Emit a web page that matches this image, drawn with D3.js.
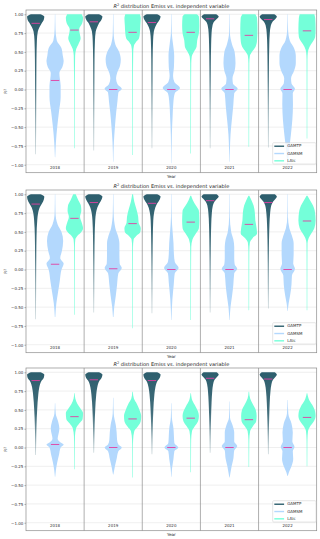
<!DOCTYPE html>
<html>
<head>
<meta charset="utf-8">
<script src="https://cdn.jsdelivr.net/npm/d3@7"></script>
<style>
  body { margin: 0; background: #fff; }
  svg { display: block; font-family: "DejaVu Sans", sans-serif; }
</style>
</head>
<body>
<svg id="chart" width="320" height="539"></svg>
<script>
const years = ["2018", "2019", "2020", "2021", "2022"];
const variables = ["GAMTP", "GAMSM", "LAIc"];
const titleRest = " distribution Emiss vs. independent variable";
const yTicks = [-1, -0.75, -0.5, -0.25, 0, 0.25, 0.5, 0.75, 1];

// violin outlines, one list per panel, one entry per year: [R2 value, relative half width]
const gamtpProfiles = [
  [
    [[1,0.55],[0.97,1],[0.93,0.95],[0.88,0.7],[0.83,0.45],[0.77,0.25],[0.65,0.14],[0.4,0.09],[0,0.07],[-0.5,0.05],[-0.86,0.03]],
    [[1,0.6],[0.97,1],[0.93,0.9],[0.88,0.6],[0.83,0.4],[0.77,0.22],[0.65,0.13],[0.4,0.08],[0,0.06],[-0.5,0.04],[-0.81,0.03]],
    [[1,0.6],[0.97,1],[0.93,0.9],[0.88,0.6],[0.83,0.38],[0.77,0.22],[0.65,0.13],[0.4,0.08],[0,0.06],[-0.5,0.04],[-0.78,0.03]],
    [[1,0.7],[0.97,1],[0.94,0.8],[0.9,0.45],[0.85,0.28],[0.75,0.17],[0.6,0.12],[0.3,0.08],[0,0.06],[-0.5,0.04],[-0.78,0.03]],
    [[1,0.7],[0.97,1],[0.94,0.85],[0.9,0.5],[0.85,0.3],[0.75,0.18],[0.6,0.12],[0.3,0.08],[0,0.06],[-0.5,0.04],[-0.77,0.03]]
  ],
  [
    [[1,0.55],[0.97,1],[0.93,0.95],[0.88,0.75],[0.82,0.45],[0.75,0.28],[0.65,0.18],[0.45,0.1],[0.2,0.07],[-0.2,0.05],[-0.66,0.03]],
    [[1,0.6],[0.97,1],[0.93,0.9],[0.88,0.65],[0.82,0.4],[0.75,0.25],[0.65,0.16],[0.45,0.1],[0.2,0.07],[-0.2,0.05],[-0.57,0.03]],
    [[1,0.6],[0.97,1],[0.93,0.9],[0.88,0.62],[0.82,0.38],[0.75,0.24],[0.65,0.15],[0.45,0.1],[0.2,0.07],[-0.2,0.05],[-0.58,0.03]],
    [[1,0.75],[0.97,1],[0.94,0.8],[0.9,0.5],[0.85,0.32],[0.75,0.2],[0.6,0.13],[0.4,0.09],[0.1,0.06],[-0.2,0.05],[-0.57,0.03]],
    [[1,0.75],[0.97,1],[0.94,0.85],[0.9,0.55],[0.85,0.35],[0.75,0.22],[0.6,0.14],[0.4,0.09],[0.1,0.06],[-0.2,0.05],[-0.52,0.03]]
  ],
  [
    [[1,0.55],[0.97,1],[0.93,0.95],[0.88,0.65],[0.8,0.42],[0.7,0.3],[0.5,0.17],[0.3,0.1],[0.1,0.06],[-0.1,0.03]],
    [[1,0.6],[0.97,1],[0.93,0.92],[0.88,0.62],[0.8,0.4],[0.7,0.28],[0.5,0.16],[0.3,0.1],[0.1,0.06],[-0.07,0.03]],
    [[1,0.6],[0.97,1],[0.93,0.92],[0.88,0.62],[0.8,0.4],[0.7,0.28],[0.5,0.16],[0.3,0.1],[0.1,0.06],[-0.09,0.03]],
    [[1,0.75],[0.97,1],[0.94,0.82],[0.9,0.52],[0.84,0.35],[0.75,0.25],[0.6,0.17],[0.4,0.11],[0.15,0.06],[-0.07,0.03]],
    [[1,0.75],[0.97,1],[0.94,0.85],[0.9,0.55],[0.84,0.37],[0.75,0.26],[0.6,0.17],[0.4,0.11],[0.15,0.06],[-0.09,0.03]]
  ]
];

const gamsmProfiles = [
  [
    [[1,0.02],[0.8,0.05],[0.65,0.2],[0.55,0.75],[0.45,0.9],[0.38,1],[0.3,0.85],[0.22,0.5],[0.15,0.55],[0.05,0.65],[-0.1,0.65],[-0.3,0.45],[-0.5,0.25],[-0.7,0.1],[-0.9,0.02]],
    [[1,0.02],[0.75,0.05],[0.6,0.25],[0.5,0.7],[0.4,0.88],[0.32,0.8],[0.22,0.45],[0.15,0.33],[0.07,0.5],[0.01,1],[-0.04,0.6],[-0.15,0.5],[-0.3,0.35],[-0.5,0.2],[-0.7,0.08],[-0.96,0.02]],
    [[1,0.02],[0.75,0.05],[0.6,0.2],[0.45,0.33],[0.3,0.3],[0.18,0.2],[0.1,0.35],[0.02,1],[-0.05,0.4],[-0.15,0.25],[-0.35,0.15],[-0.6,0.06],[-0.98,0.02]],
    [[1,0.02],[0.75,0.05],[0.6,0.3],[0.5,0.6],[0.35,0.7],[0.25,0.6],[0.15,0.35],[0.08,0.4],[0.01,0.95],[-0.05,0.55],[-0.2,0.45],[-0.4,0.28],[-0.6,0.12],[-0.8,0.05],[-0.96,0.02]],
    [[1,0.02],[0.8,0.05],[0.65,0.25],[0.55,0.75],[0.45,0.95],[0.35,0.95],[0.25,0.75],[0.15,0.4],[0.08,0.45],[0.01,0.85],[-0.05,0.6],[-0.2,0.62],[-0.4,0.55],[-0.6,0.38],[-0.8,0.18],[-1,0.03]]
  ],
  [
    [[1,0.02],[0.75,0.05],[0.6,0.3],[0.5,0.75],[0.38,0.94],[0.25,0.8],[0.15,0.6],[0.08,1],[0,0.75],[-0.15,0.55],[-0.3,0.35],[-0.45,0.15],[-0.63,0.03]],
    [[1,0.02],[0.75,0.05],[0.55,0.25],[0.45,0.55],[0.35,0.72],[0.2,0.72],[0.08,0.75],[0.02,1],[-0.05,0.6],[-0.2,0.45],[-0.35,0.3],[-0.5,0.12],[-0.63,0.03]],
    [[1,0.02],[0.7,0.04],[0.5,0.15],[0.35,0.25],[0.2,0.3],[0.1,0.4],[0.02,0.85],[-0.05,0.4],[-0.2,0.28],[-0.4,0.12],[-0.67,0.02]],
    [[1,0.02],[0.7,0.04],[0.5,0.2],[0.4,0.45],[0.3,0.55],[0.15,0.55],[0.07,0.6],[0.01,0.9],[-0.05,0.55],[-0.2,0.45],[-0.35,0.3],[-0.5,0.12],[-0.67,0.02]],
    [[1,0.02],[0.7,0.04],[0.55,0.2],[0.45,0.5],[0.35,0.7],[0.2,0.7],[0.08,0.65],[0.01,0.85],[-0.08,0.5],[-0.2,0.45],[-0.35,0.28],[-0.45,0.12],[-0.55,0.02]]
  ],
  [
    [[0.59,0.02],[0.45,0.08],[0.35,0.35],[0.25,0.5],[0.18,0.4],[0.12,0.3],[0.07,0.6],[0.04,1],[0,0.65],[-0.1,0.45],[-0.2,0.25],[-0.3,0.1],[-0.39,0.02]],
    [[0.66,0.02],[0.45,0.06],[0.3,0.3],[0.2,0.4],[0.1,0.45],[0.04,0.6],[0,1],[-0.05,0.6],[-0.15,0.4],[-0.25,0.2],[-0.36,0.02]],
    [[0.59,0.02],[0.4,0.06],[0.25,0.25],[0.15,0.3],[0.06,0.35],[0,0.8],[-0.05,0.35],[-0.15,0.25],[-0.28,0.08],[-0.39,0.02]],
    [[0.61,0.02],[0.4,0.06],[0.3,0.35],[0.2,0.55],[0.08,0.55],[0.02,0.9],[-0.04,0.55],[-0.15,0.45],[-0.25,0.25],[-0.4,0.02]],
    [[0.63,0.02],[0.45,0.08],[0.32,0.45],[0.2,0.6],[0.08,0.55],[0.01,0.8],[-0.05,0.6],[-0.15,0.65],[-0.25,0.45],[-0.33,0.15],[-0.38,0.02]]
  ]
];

const laicProfiles = [
  [
    [[1,0.85],[0.95,1],[0.88,0.9],[0.8,0.55],[0.75,0.6],[0.68,0.72],[0.6,0.45],[0.54,0.2],[0.45,0.08],[0,0.04],[-0.78,0.03]],
    [[1,0.85],[0.95,0.95],[0.85,0.9],[0.75,0.85],[0.68,0.75],[0.63,0.4],[0.58,0.15],[0.5,0.07],[0,0.04],[-0.87,0.03]],
    [[1,0.7],[0.97,0.95],[0.85,1],[0.75,0.95],[0.65,0.75],[0.57,0.68],[0.5,0.35],[0.44,0.12],[0.35,0.06],[0,0.04],[-0.85,0.03]],
    [[1,0.75],[0.95,0.95],[0.8,1],[0.65,0.95],[0.57,0.78],[0.5,0.35],[0.45,0.12],[0.35,0.05],[0,0.04],[-0.76,0.03]],
    [[1,0.85],[0.95,0.95],[0.8,1],[0.7,0.95],[0.63,0.65],[0.57,0.3],[0.5,0.1],[0.4,0.05],[0,0.04],[-0.65,0.03]]
  ],
  [
    [[1,0.15],[0.92,0.45],[0.85,0.75],[0.78,0.8],[0.7,0.65],[0.62,0.85],[0.55,1],[0.5,0.8],[0.45,0.35],[0.4,0.1],[0.3,0.05],[0,0.04],[-0.6,0.03]],
    [[1,0.05],[0.9,0.2],[0.8,0.45],[0.7,0.65],[0.62,0.7],[0.55,0.95],[0.5,0.9],[0.45,0.45],[0.4,0.12],[0.3,0.05],[0,0.04],[-0.78,0.03]],
    [[0.98,0.05],[0.92,0.25],[0.85,0.6],[0.78,0.95],[0.65,1],[0.55,0.95],[0.48,0.6],[0.4,0.2],[0.3,0.06],[0,0.04],[-0.67,0.03]],
    [[0.98,0.05],[0.92,0.3],[0.85,0.55],[0.75,0.7],[0.65,0.75],[0.55,0.9],[0.48,0.95],[0.42,0.45],[0.36,0.12],[0.25,0.05],[0,0.04],[-0.54,0.03]],
    [[0.98,0.05],[0.92,0.35],[0.85,0.7],[0.78,0.9],[0.65,1],[0.55,0.85],[0.48,0.5],[0.42,0.2],[0.35,0.06],[0,0.04],[-0.54,0.03]]
  ],
  [
    [[0.72,0.03],[0.65,0.1],[0.58,0.35],[0.52,0.7],[0.46,1],[0.38,0.95],[0.32,0.55],[0.26,0.2],[0.15,0.06],[0,0.04],[-0.29,0.03]],
    [[0.74,0.03],[0.65,0.15],[0.58,0.5],[0.5,0.8],[0.42,1],[0.35,0.95],[0.28,0.6],[0.22,0.2],[0.1,0.06],[0,0.04],[-0.4,0.03]],
    [[0.72,0.03],[0.62,0.2],[0.55,0.55],[0.48,0.85],[0.42,0.95],[0.35,0.85],[0.28,0.45],[0.22,0.15],[0.1,0.05],[0,0.04],[-0.33,0.03]],
    [[0.74,0.03],[0.65,0.15],[0.58,0.45],[0.5,0.8],[0.42,0.9],[0.35,0.85],[0.28,0.45],[0.22,0.15],[0.1,0.05],[0,0.04],[-0.26,0.03]],
    [[0.72,0.03],[0.62,0.3],[0.55,0.7],[0.48,0.95],[0.42,1],[0.35,0.8],[0.28,0.35],[0.22,0.12],[0.1,0.05],[0,0.04],[-0.25,0.03]]
  ]
];

const gamtpMedians = [[0.88, 0.90, 0.89, 0.94, 0.93], [0.87, 0.89, 0.88, 0.915, 0.89], [0.89, 0.90, 0.89, 0.92, 0.91]];
const gamsmMedians = [[0.12, 0.0, 0.0, 0.0, 0.0], [0.07, 0.01, 0.0, 0.0, 0.0], [0.04, 0.0, 0.0, 0.0, 0.0]];
const laicMedians = [[0.79, 0.76, 0.76, 0.72, 0.78], [0.68, 0.61, 0.63, 0.60, 0.645], [0.41, 0.38, 0.39, 0.37, 0.40]];

const profiles = { GAMTP: gamtpProfiles, GAMSM: gamsmProfiles, LAIc: laicProfiles };
const medians = { GAMTP: gamtpMedians, GAMSM: gamsmMedians, LAIc: laicMedians };
const colors = { GAMTP: "#2d5e6d", GAMSM: "#b3d8fd", LAIc: "#74ffd9" };
const medianColor = "#e23fa2";

const svg = d3.select("#chart");
const left = 26, right = 316.7, panelH = 162.7;
const panelTops = [10, 190, 368];

const defs = svg.append("defs");
const grad = defs.append("linearGradient")
  .attr("id", "gamtpFade")
  .attr("x1", 0).attr("y1", 0).attr("x2", 0).attr("y2", 1);
grad.append("stop").attr("offset", "0").attr("stop-color", colors.GAMTP).attr("stop-opacity", 1);
grad.append("stop").attr("offset", "0.5").attr("stop-color", colors.GAMTP).attr("stop-opacity", 0.9);
grad.append("stop").attr("offset", "1").attr("stop-color", colors.GAMTP).attr("stop-opacity", 0.35);

const x = d3.scaleBand().domain(years).range([left, right]);
const xInner = d3.scaleBand().domain(variables).range([0, x.bandwidth()]);
const w = d3.scaleLinear().domain([0, 1]).range([0, 8.6]);

panelTops.forEach((top, p) => {
  const g = svg.append("g");
  const y = d3.scaleLinear().domain([-1.106, 1.057]).range([top + panelH, top]);

  // title
  const title = g.append("text")
    .attr("x", (left + right) / 2)
    .attr("y", top - 2.5)
    .attr("text-anchor", "middle")
    .attr("font-size", 5)
    .attr("fill", "#222");
  title.append("tspan").attr("font-style", "italic").text("R");
  title.append("tspan").attr("font-size", 3.5).attr("dy", -1.8).text("2");
  title.append("tspan").attr("dy", 1.8).text(titleRest);

  // horizontal grid
  g.append("g")
    .selectAll("line")
    .data(yTicks)
    .join("line")
    .attr("x1", left).attr("x2", right)
    .attr("y1", d => y(d)).attr("y2", d => y(d))
    .attr("stroke", "#e4e4e4")
    .attr("stroke-width", 0.6);

  // y axis labels
  const yAxis = g.append("g")
    .attr("transform", `translate(${left},0)`)
    .call(d3.axisLeft(y).tickValues(yTicks).tickFormat(d3.format(".2f")).tickSize(1.5).tickPadding(1.2));
  yAxis.select(".domain").remove();
  yAxis.selectAll("line").attr("stroke", "#555").attr("stroke-width", 0.5);
  yAxis.selectAll("text")
    .attr("font-size", 4)
    .attr("font-family", "DejaVu Sans")
    .attr("fill", "#333");

  // y label
  const yl = g.append("text")
    .attr("transform", `translate(7,${top + panelH / 2}) rotate(-90)`)
    .attr("text-anchor", "middle")
    .attr("font-size", 4.2)
    .attr("fill", "#222");
  yl.append("tspan").text("R");
  yl.append("tspan").attr("font-size", 3).attr("dy", -1.5).text("2");

  // violins
  years.forEach((yr, i) => {
    variables.forEach(v => {
      const cx = x(yr) + xInner(v) + xInner.bandwidth() / 2;
      const area = d3.area()
        .y(d => y(d[0]))
        .x0(d => cx - w(d[1]))
        .x1(d => cx + w(d[1]))
        .curve(d3.curveMonotoneY);
      g.append("path")
        .datum(profiles[v][p][i])
        .attr("d", area)
        .attr("fill", v === "GAMTP" ? "url(#gamtpFade)" : colors[v]);
    });
  });

  // medians
  years.forEach((yr, i) => {
    variables.forEach(v => {
      const cx = x(yr) + xInner(v) + xInner.bandwidth() / 2;
      const m = medians[v][p][i];
      g.append("line")
        .attr("x1", cx - 4.2).attr("x2", cx + 4.2)
        .attr("y1", y(m)).attr("y2", y(m))
        .attr("stroke", medianColor)
        .attr("stroke-width", 0.9);
    });
  });

  // year separators
  g.append("g")
    .selectAll("line")
    .data(years.slice(1))
    .join("line")
    .attr("x1", d => x(d)).attr("x2", d => x(d))
    .attr("y1", top).attr("y2", top + panelH)
    .attr("stroke", "#8c8c8c")
    .attr("stroke-width", 0.7);

  // year labels
  g.append("g")
    .selectAll("text")
    .data(years)
    .join("text")
    .attr("x", d => x(d) + x.bandwidth() / 2)
    .attr("y", y(-1) + 4.6)
    .attr("text-anchor", "middle")
    .attr("font-size", 4)
    .attr("fill", "#333")
    .text(d => d);

  // frame
  g.append("rect")
    .attr("x", left).attr("y", top)
    .attr("width", right - left).attr("height", panelH)
    .attr("fill", "none")
    .attr("stroke", "#8c8c8c")
    .attr("stroke-width", 0.7);

  // x label
  g.append("text")
    .attr("x", (left + right) / 2)
    .attr("y", top + panelH + 5)
    .attr("text-anchor", "middle")
    .attr("font-size", 4.2)
    .attr("fill", "#222")
    .text("Year");

  // legend
  const lg = g.append("g").attr("transform", `translate(272.7,${y(-1) - 22})`);
  lg.append("rect")
    .attr("width", 43.3).attr("height", 21.3)
    .attr("rx", 1).attr("ry", 1)
    .attr("fill", "#fff").attr("fill-opacity", 0.8)
    .attr("stroke", "#ccc").attr("stroke-width", 0.5);
  variables.forEach((v, k) => {
    const ly = 3.5 + k * 7.3;
    lg.append("line")
      .attr("x1", 1.6).attr("x2", 11.4)
      .attr("y1", ly).attr("y2", ly)
      .attr("stroke", colors[v])
      .attr("stroke-width", 1.4);
    lg.append("text")
      .attr("x", 14.5).attr("y", ly)
      .attr("dominant-baseline", "middle")
      .attr("font-size", 4)
      .attr("fill", "#333")
      .text(v);
  });
});
</script>
</body>
</html>
